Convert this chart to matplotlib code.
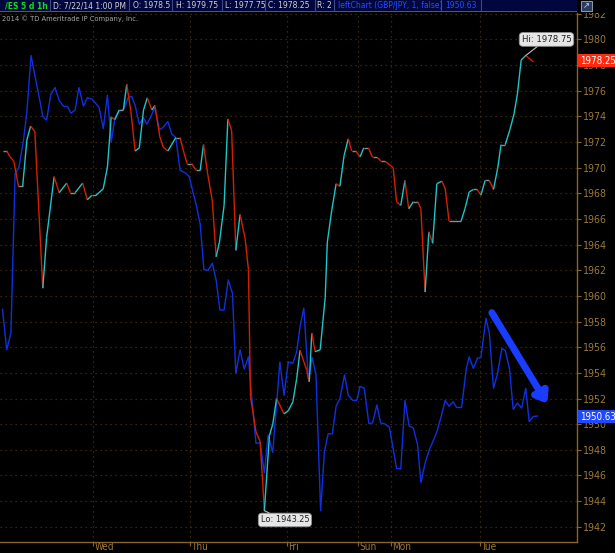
import matplotlib
matplotlib.use("Agg")
import matplotlib.pyplot as plt
import matplotlib.transforms as mtrans
from matplotlib import font_manager as fm
from matplotlib.collections import LineCollection
import numpy as np

plt.rcParams['font.family'] = ['DejaVu Sans']

# use the condensed DejaVu face if it is there, else shrink normal text
cond = "Condensed" in fm.findfont(fm.FontProperties(family="DejaVu Sans", stretch="condensed"))
STRETCH = "condensed" if cond else "normal"
K = 1.0 if cond else 0.84

# /ES 1h closes, x = hour index from left edge of chart
es_x = [0.6, 1.6, 2.4, 3.3, 4.4, 5.4, 6.4, 7.3, 8.3, 10.2, 11.1, 12.9, 14.1, 15.9, 16.8,
        17.9, 19.7, 20.8, 21.9, 22.9, 24.6, 25.6, 26.5, 27.4, 28.4, 29.4, 30.2, 31.2, 32.2,
        33.2, 34.2, 35.1, 36.2, 36.9, 38.1, 38.9, 40.0, 41.9, 42.9, 43.9, 44.6, 45.7, 46.7,
        47.7, 48.5, 49.5, 50.6, 51.5, 52.3, 53.4, 54.3, 55.2, 56.2, 57.2, 58.4, 59.2, 59.7,
        61.0, 62.0, 63.0, 64.2, 65.0, 65.9, 67.7, 68.7, 69.8, 70.7, 71.5, 73.1, 73.7, 74.3,
        75.1, 76.3, 77.5, 78.0, 79.0, 80.1, 81.0, 82.0, 83.0, 83.8, 84.8, 85.8, 86.7, 87.8,
        88.8, 89.9, 90.8, 91.8, 93.7, 94.5, 95.5, 96.5, 97.4, 98.5, 99.5, 100.3, 101.3, 102.2,
        103.1, 104.1, 105.3, 106.1, 107.0, 109.9, 110.8, 111.8, 112.8, 113.7, 114.6, 115.6,
        116.6, 117.6, 118.6, 119.4, 120.4, 121.5, 122.5, 123.3, 124.2, 125.3, 127.1]
es_y = [1971.3, 1971.3, 1970.85, 1970.5, 1968.55, 1968.55, 1972.15, 1973.25, 1972.8, 1960.6,
        1964.55, 1969.3, 1968.05, 1968.8, 1968.05, 1968.05, 1968.8, 1967.5, 1967.85, 1967.85,
        1968.35, 1970.05, 1973.95, 1973.75, 1974.5, 1974.5, 1976.5, 1974.35, 1971.3, 1971.55,
        1974.5, 1975.45, 1974.5, 1974.85, 1972.4, 1971.6, 1971.3, 1972.35, 1972.35, 1971.1,
        1970.3, 1970.3, 1969.8, 1969.8, 1971.8, 1969.5, 1967.4, 1963.05, 1964.2, 1967.05,
        1973.8, 1972.9, 1963.55, 1966.35, 1964.5, 1962.05, 1952.15, 1949.4, 1948.65, 1943.25,
        1949.1, 1950.0, 1952.0, 1950.8, 1951.05, 1951.75, 1953.55, 1955.75, 1954.2, 1953.3,
        1957.1, 1955.65, 1955.8, 1959.9, 1964.2, 1966.55, 1968.75, 1968.55, 1970.95, 1972.25,
        1971.3, 1971.3, 1970.85, 1971.55, 1971.55, 1970.8, 1970.8, 1970.5, 1970.5, 1970.0,
        1967.35, 1967.05, 1969.0, 1966.8, 1967.35, 1967.35, 1966.8, 1960.3, 1965.0, 1964.1,
        1968.75, 1968.95, 1968.35, 1965.85, 1965.85, 1966.8, 1968.1, 1968.3, 1968.3, 1967.85,
        1969.0, 1969.0, 1968.3, 1969.95, 1971.8, 1971.8, 1972.95, 1974.2, 1975.75, 1978.4,
        1978.75, 1978.25]

# GBP/JPY comparison, shown on the /ES price scale
gj_x = [0.6, 1.6, 2.6, 3.6, 4.5, 5.6, 6.4, 7.4, 8.3, 9.4, 10.2, 11.1, 12.1, 13.1, 14.1, 15.1,
        16.1, 16.9, 17.9, 18.8, 19.9, 20.8, 21.9, 22.6, 23.6, 24.6, 25.6, 26.5, 27.4, 28.4,
        29.4, 30.6, 31.4, 32.2, 33.2, 34.2, 35.0, 35.9, 36.9, 38.0, 38.9, 40.0, 40.9, 41.9,
        42.9, 44.1, 45.1, 45.9, 46.7, 47.7, 48.6, 49.6, 50.6, 51.5, 52.4, 53.4, 54.4, 55.4,
        56.2, 57.2, 58.2, 59.2, 59.7, 61.0, 62.0, 63.0, 63.9, 65.0, 66.7, 67.7, 68.7, 69.8,
        70.7, 71.5, 72.4, 73.5, 74.4, 75.3, 76.4, 77.3, 78.2, 79.2, 80.1, 81.0, 82.1, 83.0,
        84.1, 85.0, 85.8, 86.8, 87.9, 88.8, 89.8, 90.7, 91.8, 92.8, 93.6, 94.5, 95.5, 96.5,
        97.5, 98.5, 99.5, 100.3, 101.3, 102.3, 103.3, 104.1, 105.0, 106.1, 107.0, 108.0,
        108.8, 110.0, 111.1, 111.8, 112.8, 113.8, 114.6, 115.8, 116.6, 117.6, 118.5, 119.6,
        120.4, 121.4, 122.3, 123.3, 124.3, 125.3, 126.1, 127.1, 128.1]
gj_y = [1958.95, 1955.8, 1957.1, 1969.55, 1970.0, 1972.15, 1974.35, 1978.75, 1977.2, 1975.4,
        1974.0, 1973.7, 1975.7, 1976.25, 1975.25, 1974.8, 1974.75, 1974.25, 1974.5, 1976.25,
        1974.8, 1975.45, 1975.35, 1975.1, 1974.7, 1973.05, 1975.65, 1972.0, 1973.9, 1974.45,
        1974.5, 1975.5, 1975.55, 1974.85, 1973.4, 1973.9, 1973.4, 1973.95, 1974.7, 1972.95,
        1973.15, 1973.6, 1972.65, 1972.35, 1969.8, 1969.6, 1969.3, 1968.2, 1967.2, 1965.6,
        1962.05, 1962.0, 1962.55, 1961.25, 1958.9, 1958.9, 1961.25, 1960.2, 1953.95, 1955.8,
        1954.3, 1955.25, 1953.2, 1948.5, 1948.55, 1946.2, 1949.15, 1947.8, 1954.85, 1952.25,
        1954.85, 1954.75, 1955.65, 1957.6, 1959.05, 1953.45, 1955.2, 1953.85, 1943.25, 1947.85,
        1949.25, 1949.25, 1951.4, 1952.0, 1953.85, 1952.25, 1951.85, 1951.85, 1952.95, 1952.8,
        1950.05, 1950.1, 1951.5, 1950.1, 1950.0, 1949.75, 1948.25, 1946.55, 1946.5, 1951.85,
        1949.85, 1949.7, 1948.4, 1945.45, 1946.95, 1948.0, 1948.75, 1949.4, 1950.45, 1951.85,
        1951.4, 1951.75, 1951.3, 1951.3, 1954.3, 1955.25, 1954.35, 1955.15, 1955.2, 1958.25,
        1957.1, 1952.8, 1953.85, 1955.9, 1955.75, 1954.35, 1951.15, 1951.65, 1951.25, 1952.8,
        1950.2, 1950.6, 1950.63]

day_pos = [22.2, 45.2, 68.3, 85.4, 93.1, 114.3]
day_lbl = ["Wed", "Thu", "Fri", "Sun", "Mon", "Tue"]
y_ticks = list(range(1942, 1983, 2))

header_cells = ["/ES 5 d 1h", "D: 7/22/14 1:00 PM", "O: 1978.5", "H: 1979.75",
                "L: 1977.75", "C: 1978.25", "R: 2", "leftChart (GBP/JPY, 1, false)", "1950.63"]
header_x = [5, 53, 133, 176, 225, 268, 317, 338, 445]
header_sep = [50, 129, 172, 222, 265, 315, 334, 441, 481]
header_col = ["#10e010", "#d0d0d0", "#d0d0d0", "#d0d0d0", "#d0d0d0", "#d0d0d0", "#d0d0d0",
              "#2050ff", "#2050ff"]

W, H = 615, 553
fig = plt.figure(figsize=(W / 100, H / 100), dpi=100, facecolor="black")

grid_c = "#4a3210"
axis_c = "#8a6428"
lbl_c = "#9c7a3c"

ax = fig.add_axes([0, 1 - 541.5 / H, 577 / W, (541.5 - 12.5) / H])
ax.set_facecolor("black")
ax.set_xlim(0, 137.5)
ax.set_ylim(1940.85, 1982.1)

# ES line colored by direction of each hourly move
pts = np.column_stack([es_x, es_y])
segs = np.stack([pts[:-1], pts[1:]], axis=1)
diff = np.diff(es_y)
cols = ["#20c4c4" if d > 0 else ("#d42000" if d < 0 else "#8c8c8c") for d in diff]
ax.add_collection(LineCollection(segs, colors=cols, linewidths=1.0, zorder=3))

ax.plot(gj_x, gj_y, color="#1030e0", lw=1.0, zorder=2)

ax.yaxis.tick_right()
ax.set_yticks(y_ticks)
ax.set_yticklabels([str(t) for t in y_ticks], fontstretch=STRETCH)
ax.set_xticks(day_pos)
ax.set_xticklabels(day_lbl, ha="left", fontstretch=STRETCH)
ax.tick_params(axis="y", colors=axis_c, labelcolor=lbl_c, labelsize=7.6 * K, length=3, width=0.8, pad=1)
ax.tick_params(axis="x", colors=axis_c, labelcolor=lbl_c, labelsize=7.2 * K, length=3, width=0.8, pad=-2.5)
for lab in ax.get_xticklabels():
    lab.set_transform(lab.get_transform() + mtrans.ScaledTranslation(1.5 / 100, 0, fig.dpi_scale_trans))
ax.grid(True, color=grid_c, linestyle=(0, (1, 3)), linewidth=0.9)
for s in ["left", "top"]:
    ax.spines[s].set_visible(False)
for s in ["right", "bottom"]:
    ax.spines[s].set_color(axis_c)
    ax.spines[s].set_linewidth(1.0)

# trend arrow
ax.annotate("", xy=(130.4, 1951.6), xytext=(117.2, 1958.7),
            arrowprops=dict(arrowstyle="-|>,head_width=0.45,head_length=0.6",
                            color="#1a3cff", lw=5, shrinkA=0, shrinkB=0), zorder=5)

# hi / lo bubbles
i_hi = int(np.argmax(es_y))
i_lo = int(np.argmin(es_y))
bub = dict(boxstyle="round,pad=0.25,rounding_size=0.4", fc="#e6e6e6", ec="#909090", lw=0.6)
ax.annotate(f"Hi: {es_y[i_hi]:.2f}", xy=(es_x[i_hi], es_y[i_hi]),
            xytext=(es_x[i_hi] - 1.0, es_y[i_hi] + 1.25), fontsize=6.8 * K, color="#202020",
            ha="left", va="center", bbox=bub, fontstretch=STRETCH,
            arrowprops=dict(arrowstyle="-", color="#c0c0c0", lw=0.8, shrinkA=0, shrinkB=0), zorder=6)
ax.annotate(f"Lo: {es_y[i_lo]:.2f}", xy=(es_x[i_lo], es_y[i_lo]),
            xytext=(es_x[i_lo] - 0.9, es_y[i_lo] - 0.72), fontsize=6.6 * K, color="#202020",
            ha="left", va="center", bbox=bub, fontstretch=STRETCH,
            arrowprops=dict(arrowstyle="-", color="#c0c0c0", lw=0.8, shrinkA=0, shrinkB=0), zorder=6)

# last price boxes on the right scale
tr = mtrans.blended_transform_factory(ax.transAxes, ax.transData)
ax.text(1.005, es_y[-1] + 0.1, f"{es_y[-1]:.2f}", transform=tr, fontsize=7.0 * K, color="white",
        ha="left", va="center", clip_on=False, zorder=7, fontstretch=STRETCH,
        bbox=dict(boxstyle="square,pad=0.15", fc="#ff2a10", ec="none"))
ax.text(1.005, gj_y[-1] - 0.05, f"{gj_y[-1]:.2f}", transform=tr, fontsize=7.0 * K, color="white",
        ha="left", va="center", clip_on=False, zorder=7, fontstretch=STRETCH,
        bbox=dict(boxstyle="square,pad=0.15", fc="#2048ff", ec="none"))

# header bar
hax = fig.add_axes([0, 1 - 12 / H, 577 / W, 12 / H])
hax.set_facecolor("#00073f")
hax.set_xlim(0, 577)
hax.set_ylim(0, 12)
hax.set_xticks([])
hax.set_yticks([])
for s in hax.spines.values():
    s.set_visible(False)
hax.axhline(0.2, color=axis_c, lw=1.2)
for txt, x0, c in zip(header_cells, header_x, header_col):
    hax.text(x0, 6.2, txt, color=c, fontsize=6.1 * K, ha="left", va="center", fontstretch=STRETCH,
             fontweight="bold" if txt.startswith("/ES") else "normal")
for xs in header_sep:
    hax.plot([xs, xs], [0.5, 12], color="#3a4a8a", lw=0.8)

# black strip right of header (hides top of the 1982 label like the original)
fig.patches.append(plt.Rectangle((578 / W, 1 - 12.5 / H), 37 / W, 12.5 / H, transform=fig.transFigure,
                                 fc="black", ec="none", zorder=1))
# expand icon at top right
fig.patches.append(plt.Rectangle((581 / W, 1 - 11 / H), 11 / W, 10 / H, transform=fig.transFigure,
                                 fc="#2a3a60", ec="#a0b0c0", lw=0.6, zorder=2))
fig.text(586.5 / W, 1 - 6 / H, "↗", color="#d0e0ff", fontsize=6, ha="center", va="center", zorder=3)

fig.text(2 / W, 1 - 19 / H, "2014 © TD Ameritrade IP Company, Inc.", color="#a8a8a8",
         fontsize=5.4 * K, ha="left", va="center", fontstretch=STRETCH)

fig.savefig("out.png", dpi=100, facecolor="black")
